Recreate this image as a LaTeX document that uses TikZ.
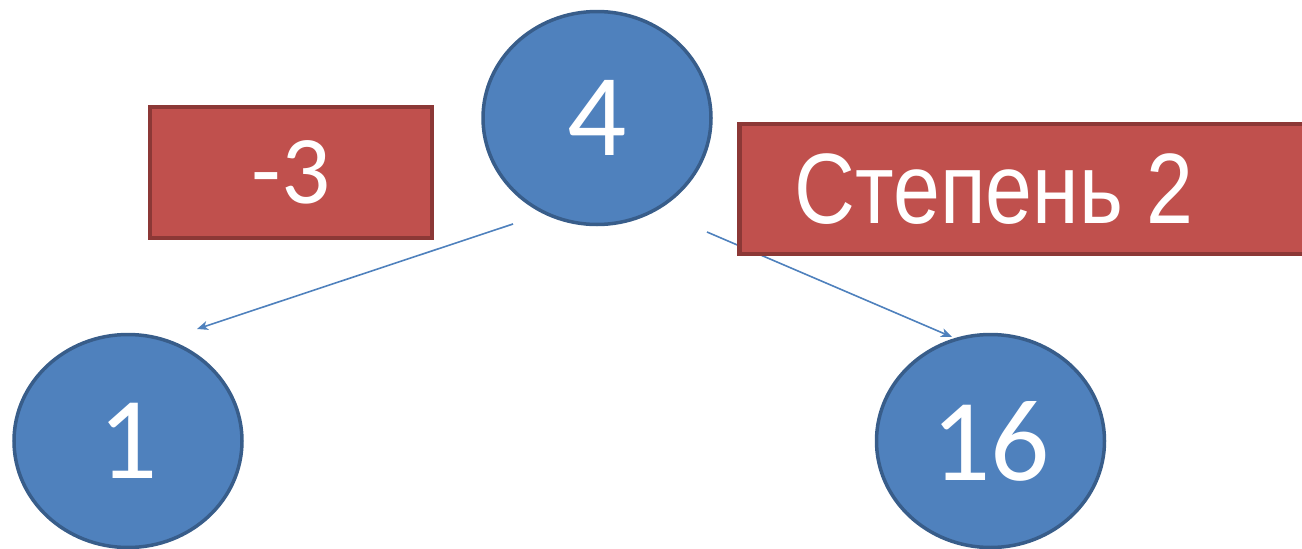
\documentclass[tikz,border=0pt]{standalone}
\usepackage{fontspec}
\setmainfont{Carlito}
\newfontfamily\arialfont{Liberation Sans}
\usetikzlibrary{shapes.geometric,arrows.meta}
\definecolor{cfill}{HTML}{4F81BD}
\definecolor{cline}{HTML}{385D8A}
\definecolor{rfill}{HTML}{C0504D}
\definecolor{rline}{HTML}{8C3836}
\tikzset{
  valnode/.style={ellipse, fill=cfill, draw=cline, line width=3.5pt, minimum width=228pt, minimum height=213pt, inner sep=0pt, text=white, font=\fontsize{117}{120}\selectfont},
  opbox/.style={rectangle, fill=rfill, draw=rline, line width=4.5pt, inner sep=0pt, text=white},
  conn/.style={draw=cfill, line width=1.6pt, -{Stealth[length=11pt,width=9pt,inset=3pt]}}
}
\begin{document}
\begin{tikzpicture}[x=1pt,y=-1pt]
\useasboundingbox (0,0) rectangle (1302,549);
\clip (0,0) rectangle (1302,549);
\node[valnode] (n4) at (597,118) {4};
\node[valnode] (n1) at (128,441) {1};
\node[valnode] (n16) at (990.5,441) {16};
\coordinate (s1) at (513,224);
\coordinate (e1) at (197,329);
\coordinate (s2) at (707,232);
\coordinate (e2) at (952,337);
\draw[conn] (s1) -- (e1);
\draw[conn] (s2) -- (e2);
\node[opbox, minimum width=282pt, minimum height=131pt, font=\fontsize{97}{100}\selectfont] (minus) at (291,172.5) {-3};
\node[opbox, minimum width=700pt, minimum height=130pt, anchor=west] (deg) at (737,189) {};
\node[text=white, font=\arialfont\fontsize{100}{104}\selectfont, inner sep=0pt] (degtext) at (994,189) {\scalebox{0.843}[1]{Степень 2}};
\end{tikzpicture}
\end{document}
